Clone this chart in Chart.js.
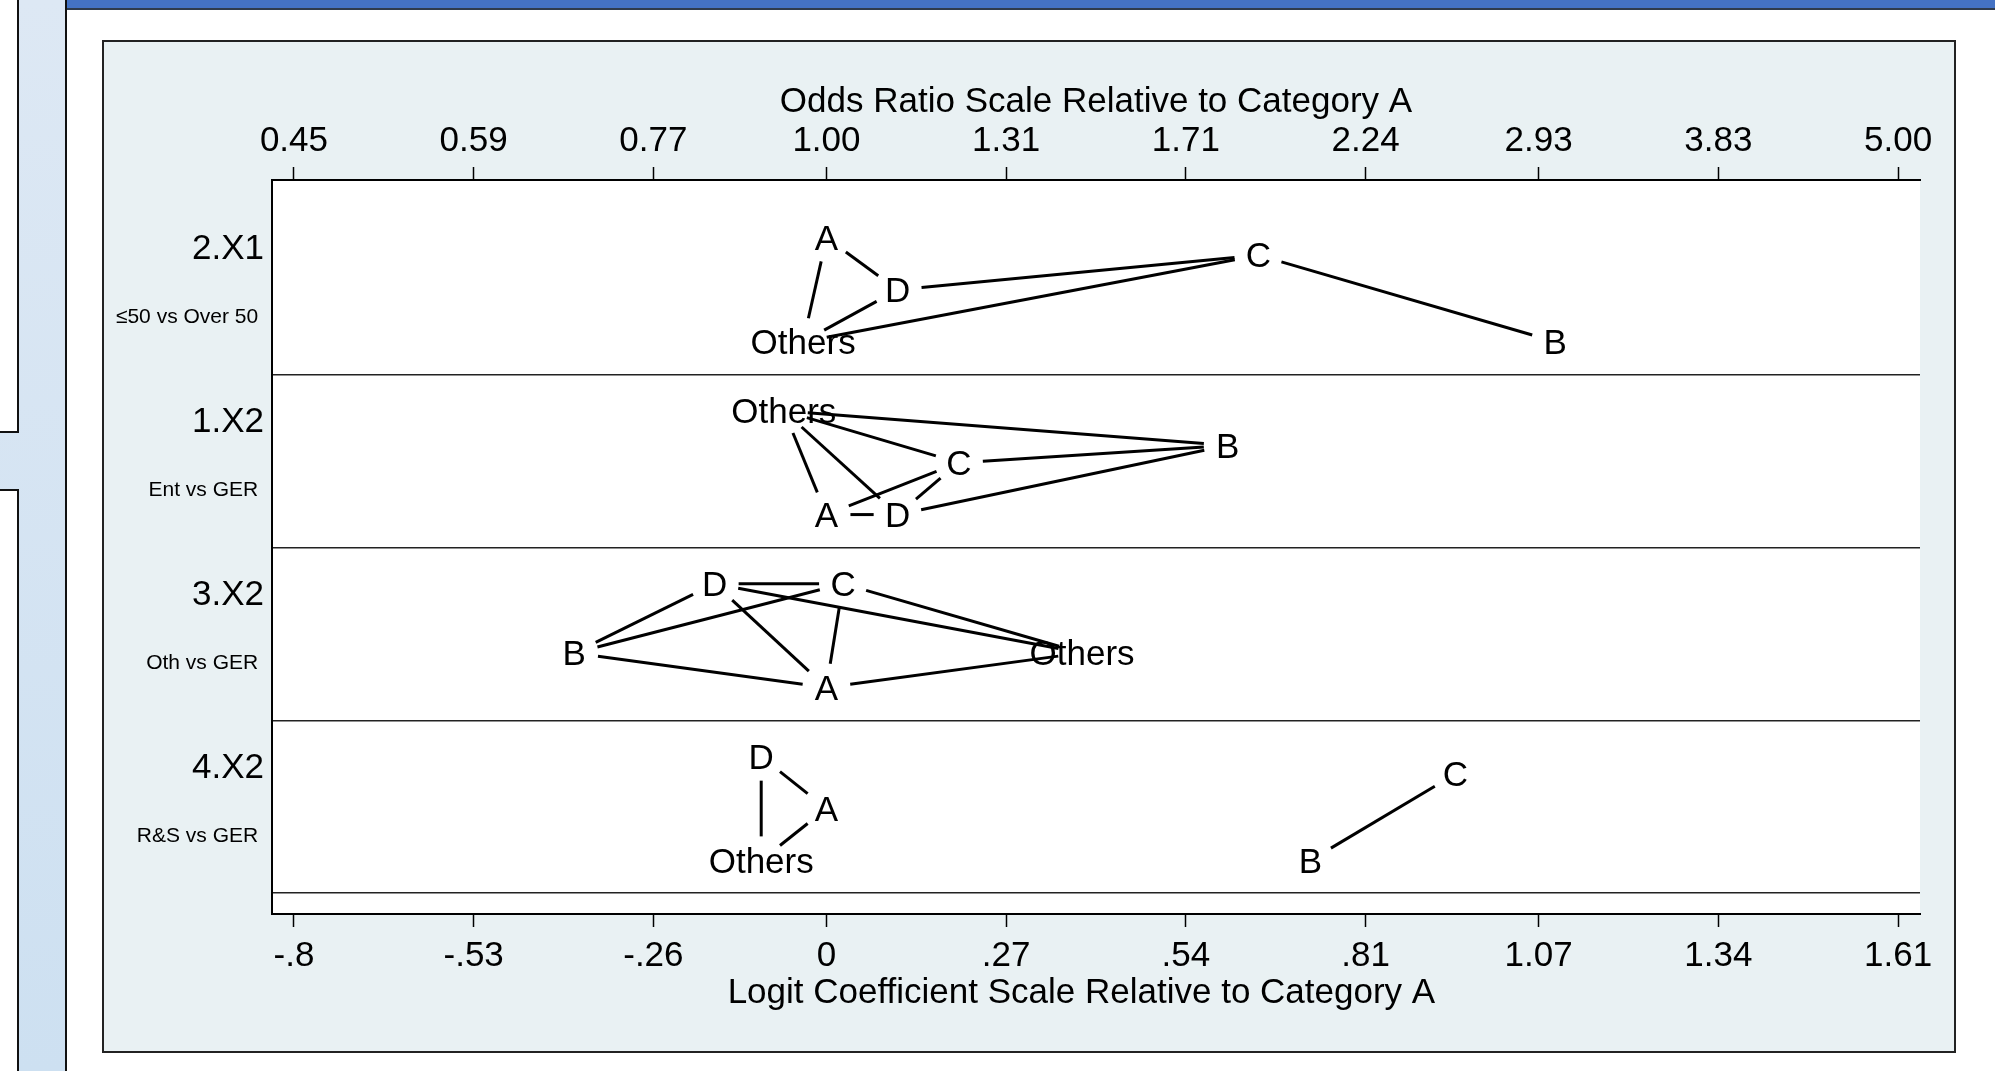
<!DOCTYPE html>
<html>
<head>
<meta charset="utf-8">
<title>Odds ratio plot</title>
<script src="https://cdn.jsdelivr.net/npm/chart.js@4.4.1/dist/chart.umd.min.js"></script>
<style>
  html, body { margin: 0; padding: 0; }
  body { width: 1995px; height: 1071px; position: relative; overflow: hidden; background: #fff; }
  #strip { position: absolute; left: 0; top: 0; width: 66px; height: 1071px; background: linear-gradient(#dde8f4, #cde0f1); }
  .side { position: absolute; left: 0; width: 17px; background: #fff; border-right: 2px solid #111; }
  #side1 { top: 0; height: 431px; border-bottom: 2px solid #111; }
  #side2 { top: 489px; bottom: 0; border-top: 2px solid #111; }
  #slide { position: absolute; left: 65px; top: 0; right: 0; bottom: 0; border-left: 2px solid #111; background: #fff; }
  #bar { position: absolute; left: 0; top: 0; right: 0; height: 8px; background: #4472c4; border-bottom: 2px solid #2f3b4c; }
  #frame { position: absolute; left: 102px; top: 40px; width: 1850px; height: 1009px; border: 2px solid #222; background: #e9f1f3; }
  #frame canvas { position: absolute; left: 0; top: 0; }
</style>
</head>
<body>
<div id="strip"></div>
<div class="side" id="side1"></div>
<div class="side" id="side2"></div>
<div id="slide">
  <div id="bar"></div>
</div>
<div id="frame"><canvas id="myChart" width="1850" height="1009"></canvas></div>

<script>
// rows of the plot (top to bottom)
const bandNames = ['2.X1', '1.X2', '3.X2', '4.X2'];
const bandNotes = ['≤50 vs Over 50', 'Ent vs GER', 'Oth vs GER', 'R&S vs GER'];
const outcomes = ['A', 'B', 'C', 'D', 'Others'];

// logit coefficients relative to category A (order A, B, C, D, Others)
const coefX1_2 = [0, 1.095, 0.649, 0.107, -0.035];
const coefX2_1 = [0, 0.603, 0.199, 0.107, -0.064];
const coefX2_3 = [0, -0.379, 0.025, -0.168, 0.384];
const coefX2_4 = [0, 0.727, 0.945, -0.098, -0.098];

// vertical offset of each letter inside its row (0 = top of row)
const offX1_2 = [0.21, 0.81, 0.31, 0.51, 0.81];
const offX2_1 = [0.81, 0.41, 0.51, 0.81, 0.21];
const offX2_3 = [0.81, 0.61, 0.21, 0.21, 0.61];
const offX2_4 = [0.51, 0.81, 0.31, 0.21, 0.81];

// pairs joined by a line
const linksX1_2 = [['A', 'Others'], ['A', 'D'], ['D', 'Others'], ['D', 'C'], ['Others', 'C'], ['C', 'B']];
const linksX2_1 = [['Others', 'B'], ['Others', 'C'], ['Others', 'A'], ['Others', 'D'], ['C', 'B'], ['D', 'B'], ['A', 'C'], ['D', 'C'], ['A', 'D']];
const linksX2_3 = [['D', 'C'], ['D', 'Others'], ['B', 'D'], ['B', 'C'], ['D', 'A'], ['C', 'A'], ['B', 'A'], ['C', 'Others'], ['A', 'Others']];
const linksX2_4 = [['D', 'A'], ['D', 'Others'], ['A', 'Others'], ['B', 'C']];

// axis ticks
const logitTicks = [-0.8, -0.53, -0.26, 0, 0.27, 0.54, 0.81, 1.07, 1.34, 1.61];
const logitLabels = ['-.8', '-.53', '-.26', '0', '.27', '.54', '.81', '1.07', '1.34', '1.61'];
const oddsLabels = ['0.45', '0.59', '0.77', '1.00', '1.31', '1.71', '2.24', '2.93', '3.83', '5.00'];

const coefs = [coefX1_2, coefX2_1, coefX2_3, coefX2_4];
const offsets = [offX1_2, offX2_1, offX2_3, offX2_4];
const links = [linksX1_2, linksX2_1, linksX2_3, linksX2_4];

const fam = '"Liberation Sans", Arial, Helvetica, sans-serif';
Chart.defaults.font.family = fam;
Chart.defaults.color = '#000';

const datasets = bandNames.map((name, i) => ({
    label: name,
    data: coefs[i].map((c, j) => ({ x: c, y: i + offsets[i][j] })),
    links: links[i],
    pointRadius: 0,
    showLine: false
}));

// white plot region, connecting lines and letters
const letterPlugin = {
    id: 'letters',
    beforeDraw(chart) {
        const { ctx, chartArea: a } = chart;
        ctx.save();
        ctx.fillStyle = '#fff';
        ctx.fillRect(a.left, a.top, a.right - a.left, a.bottom - a.top);
        ctx.restore();
    },
    afterDatasetsDraw(chart) {
        const ctx = chart.ctx;
        const gap = 24;
        ctx.save();
        ctx.strokeStyle = '#000';
        ctx.lineWidth = 3;
        chart.data.datasets.forEach((ds, i) => {
            const pts = chart.getDatasetMeta(i).data;
            ds.links.forEach(([p, q]) => {
                const a = pts[outcomes.indexOf(p)], b = pts[outcomes.indexOf(q)];
                const dx = b.x - a.x, dy = b.y - a.y;
                const len = Math.hypot(dx, dy);
                const ux = dx / len, uy = dy / len;
                ctx.beginPath();
                ctx.moveTo(a.x + ux * gap, a.y + uy * gap);
                ctx.lineTo(b.x - ux * gap, b.y - uy * gap);
                ctx.stroke();
            });
        });
        ctx.fillStyle = '#000';
        ctx.font = '35px ' + fam;
        ctx.textAlign = 'center';
        ctx.textBaseline = 'middle';
        chart.data.datasets.forEach((ds, i) => {
            chart.getDatasetMeta(i).data.forEach((pt, j) => {
                ctx.fillText(outcomes[j], pt.x, pt.y + 2.5);
            });
        });
        ctx.restore();
    }
};

const bigFont = { family: fam, size: 35 };
const smallFont = { family: fam, size: 21 };
const xGrid = { drawOnChartArea: false, drawTicks: true, tickLength: 13, tickColor: '#000', tickWidth: 1.5 };
const axisLine = { display: true, color: '#000', width: 2 };

const ctx = document.getElementById('myChart').getContext('2d');
const myChart = new Chart(ctx, {
    type: 'scatter',
    data: { datasets: datasets },
    plugins: [letterPlugin],
    options: {
        responsive: false,
        animation: false,
        events: [],
        layout: { padding: { left: 0, right: 34, top: 0, bottom: 0 } },
        plugins: { legend: { display: false }, tooltip: { enabled: false } },
        scales: {
            x: {
                type: 'linear', position: 'bottom', min: -0.833, max: 1.643,
                afterBuildTicks: s => { s.ticks = logitTicks.map(v => ({ value: v })); },
                afterFit: s => { s.height = 137; },
                ticks: { autoSkip: false, maxRotation: 0, minRotation: 0, padding: 8.5, font: bigFont,
                    callback: (v, i) => logitLabels[i] },
                grid: xGrid,
                border: axisLine,
                title: { display: true, text: 'Logit Coefficient Scale Relative to Category A   ',
                    font: bigFont, padding: { top: 0, bottom: 36.5 } }
            },
            x2: {
                type: 'linear', position: 'top', min: -0.833, max: 1.643,
                afterBuildTicks: s => { s.ticks = logitTicks.map(v => ({ value: v })); },
                afterFit: s => { s.height = 138; },
                ticks: { autoSkip: false, maxRotation: 0, minRotation: 0, padding: 4.5, font: bigFont,
                    callback: (v, i) => oddsLabels[i] },
                grid: xGrid,
                border: axisLine,
                title: { display: true, text: 'Odds Ratio Scale Relative to Category A',
                    font: bigFont, padding: { top: 39.5, bottom: 0 } }
            },
            y: {
                type: 'linear', position: 'left', reverse: true, min: -0.125, max: 4.12, weight: 0,
                // each row gets its variable name and, below it, the contrast
                afterBuildTicks: s => {
                    s.ticks = bandNames.flatMap((n, i) => [{ value: i + 0.275 }, { value: i + 0.67 }]);
                },
                afterFit: s => { s.width = 168; },
                ticks: {
                    autoSkip: false, padding: 8,
                    font: c => (c.index % 2 ? smallFont : bigFont),
                    callback: (v, i) => (i % 2 ? bandNotes[i >> 1] + '\u00a0' : bandNames[i >> 1])
                },
                grid: { display: false, drawTicks: false },
                border: axisLine
            },
            ySep: {
                type: 'linear', position: 'left', reverse: true, min: -0.125, max: 4.12, weight: 1,
                afterBuildTicks: s => { s.ticks = [1, 2, 3, 4].map(v => ({ value: v })); },
                afterFit: s => { s.width = 0; },
                ticks: { display: false },
                grid: { drawOnChartArea: true, drawTicks: false, color: '#222', lineWidth: 1.6 },
                border: { display: false }
            }
        }
    }
});
</script>
</body>
</html>
